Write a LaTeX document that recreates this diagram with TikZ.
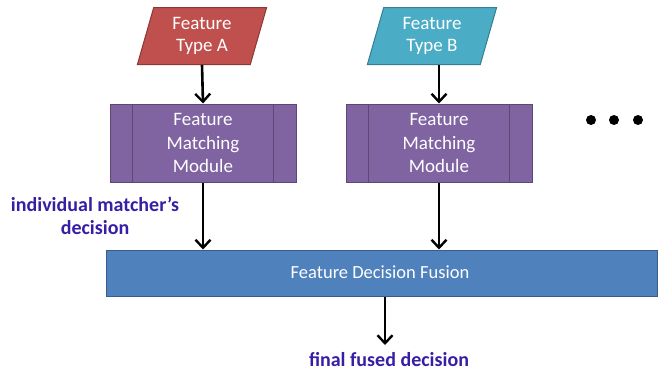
\documentclass[tikz,border=0pt]{standalone}
\usepackage{fontspec}
\setmainfont{Carlito}
\usetikzlibrary{shapes.geometric,arrows.meta}
\definecolor{redA}{HTML}{C0504D}
\definecolor{redAb}{HTML}{8C3836}
\definecolor{tealB}{HTML}{4BACC6}
\definecolor{tealBb}{HTML}{357D91}
\definecolor{purp}{HTML}{8064A2}
\definecolor{purpb}{HTML}{5C4776}
\definecolor{blueF}{HTML}{4F81BD}
\definecolor{blueFb}{HTML}{385D8A}
\definecolor{lab}{RGB}{55,30,165}
\tikzset{
  para/.style={trapezium, trapezium left angle=75, trapezium right angle=105, trapezium stretches=true,
    minimum width=130pt, minimum height=57pt, draw, line width=1pt, text=white, align=center,
    font=\fontsize{19}{22}\selectfont, inner sep=0pt},
  fmm/.style={rectangle, draw=purpb, fill=purp, line width=1pt, minimum width=186pt, minimum height=78pt,
    text=white, align=center, font=\fontsize{19}{23.5}\selectfont, inner sep=0pt},
  arr/.style={-{Straight Barb[length=8pt,width=15pt,line width=2.4pt]}, line width=2.6pt, black},
  lbl/.style={text=lab, font=\bfseries\fontsize{20}{23}\selectfont, align=center, inner sep=0pt},
}
\begin{document}
\begin{tikzpicture}[x=1pt,y=-1pt]
\useasboundingbox (0,0) rectangle (659,372);
\node[para, fill=redA, draw=redAb] (ta) at (202,36) {Feature\\Type A};
\node[para, fill=tealB, draw=tealBb] (tb) at (432,36) {Feature\\Type B};
\node[fmm] (ma) at (203,143) {Feature\\Matching\\Module};
\node[fmm] (mb) at (439,143) {Feature\\Matching\\Module};
\foreach \m in {ma,mb}{
  \draw[purpb, line width=1pt] ([xshift=23pt]\m.north west) -- ([xshift=23pt]\m.south west);
  \draw[purpb, line width=1pt] ([xshift=-23pt]\m.north east) -- ([xshift=-23pt]\m.south east);
}
\node[rectangle, draw=blueFb, fill=blueF, line width=1pt, minimum width=551pt, minimum height=46pt,
  inner sep=0pt] (fu) at (381.5,273) {};
\node[text=white, font=\fontsize{18.5}{20}\selectfont] (fut) at (380,272) {Feature Decision Fusion};
\coordinate (out) at (385,345);
\draw[arr] (ta.south) -- (ma.north);
\draw[arr] (tb.south -| mb.north) -- (mb.north);
\draw[arr] (ma.south) -- (ma.south |- fu.north);
\draw[arr] (mb.south) -- (mb.south |- fu.north);
\draw[arr] (fu.south -| out) -- (out);
\node[lbl] (l1) at (95,216) {individual matcher’s\\decision};
\node[lbl] (l2) at (389,360) {final fused decision};
\foreach \x/\n in {591/d1,614/d2,638/d3}{
  \node[circle, fill=black, minimum size=10pt, inner sep=0pt] (\n) at (\x,120) {};
}
\end{tikzpicture}
\end{document}
